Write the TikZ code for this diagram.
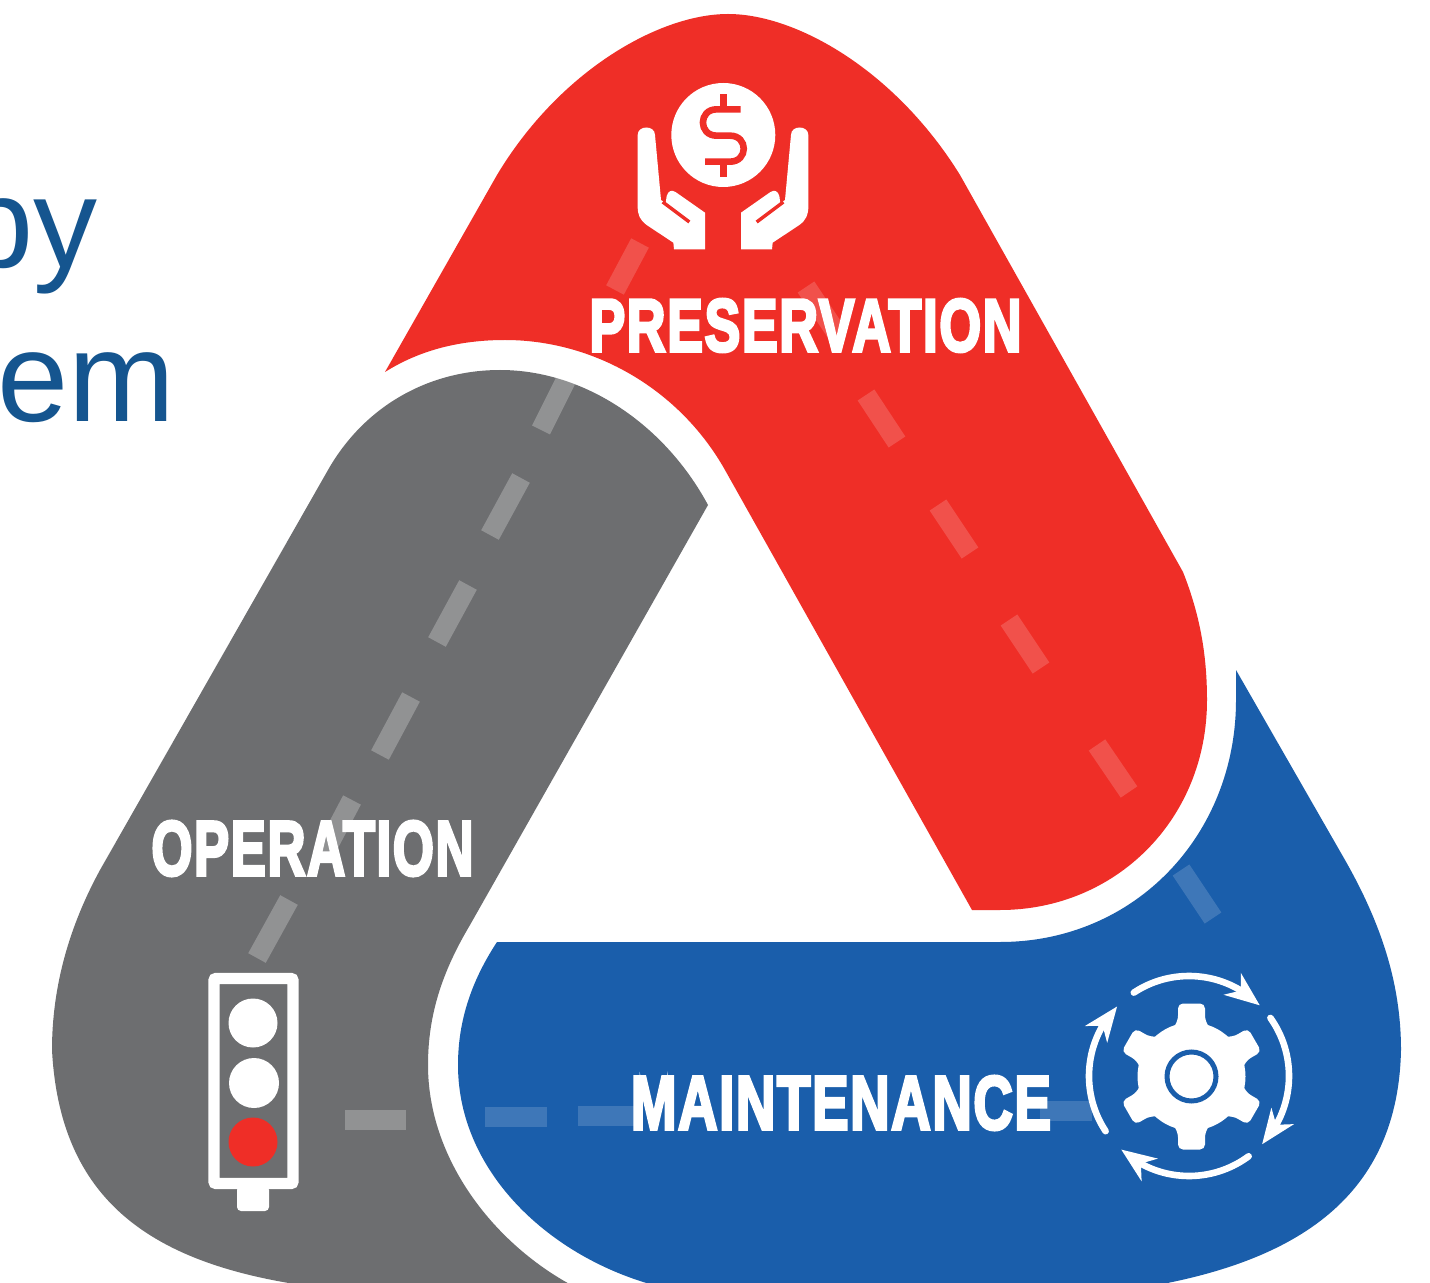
\documentclass[tikz,border=0pt]{standalone}
\usepackage{fontspec}
\setmainfont{Liberation Sans}
\newfontfamily\signfont[LetterSpace=3,BoldFeatures={FakeBold=4.4}]{Liberation Sans}
\usepackage{graphicx}
\definecolor{rdroad}{HTML}{EF2E27}
\definecolor{gyroad}{HTML}{6D6E70}
\definecolor{blroad}{HTML}{1A5EAB}
\definecolor{bltext}{HTML}{15558F}
\tikzset{
  lane/.style={draw=white,draw opacity=.25,line width=10pt},
  lanered/.style={lane,draw opacity=.17},
  laneblue/.style={lane,draw opacity=.16},
  signtext/.style={text=white,inner sep=0pt,font=\signfont\bfseries},
  headtext/.style={text=bltext,inner sep=0pt,anchor=base east,font=\fontsize{64}{64}\selectfont},
  ringline/.style={draw=white,line width=3.3pt,line cap=round},
}
\newcommand\ringarrow[2]{%
  \draw[ringline] (#1:100) arc[start angle=#1,end angle=#2+13,radius=100];
  \fill[white,shift={(#2:100)},rotate=#2-83] (0,0)--(-35,14)--(-24,0)--(-35,-14)--cycle;
}
\newcommand\handpath{%
  \fill[white] (113,225) .. controls (113,195) and (165,195) .. (165,225) -- (183,420) -- (197,430)
    -- (200,408) .. controls (205,392) and (215,388) .. (228,397) -- (315,458) -- (315,568) -- (222,568)
    -- (220,548) -- (140,495) .. controls (120,480) and (113,465) .. (113,440) -- cycle;
  \draw[rdroad,line width=1.7pt] (188,426) -- (268,486);
}
\begin{document}
\begin{tikzpicture}[x=.5pt,y=-.5pt]
\useasboundingbox (0,0) rectangle (1430,1283);
\fill[white] (0,0) rectangle (1430,1283);
\clip (0,0) rectangle (1430,1283);

% heading fragments
\node[headtext] (hby) at (98,268) {by};
\node[headtext] (hem) at (176,421.5) {em};

% red road
\fill[rdroad] (385,372) -- (497,175)
  .. controls (560,70) and (660,14) .. (728,14)
  .. controls (796,14) and (895,70) .. (960,175)
  -- (1183,572)
  .. controls (1200,615) and (1207,655) .. (1207,700)
  .. controls (1207,820) and (1115,910) .. (1000,910)
  -- (972,910) -- (725,470)
  .. controls (680,390) and (595,340) .. (505,340)
  .. controls (460,340) and (420,350) .. (385,372) -- cycle;

% gray road
\fill[gyroad] (708,505) -- (470,925)
  .. controls (442,972) and (428,1015) .. (428,1065)
  .. controls (428,1160) and (495,1245) .. (575,1287)
  -- (315,1287)
  .. controls (150,1265) and (60,1200) .. (52,1050)
  .. controls (52,985) and (70,925) .. (100,870)
  -- (328,470)
  .. controls (365,405) and (430,370) .. (500,370)
  .. controls (585,370) and (665,425) .. (708,505) -- cycle;

% blue road
\fill[blroad] (497,942) -- (1000,942)
  .. controls (1135,942) and (1236,835) .. (1236,700)
  -- (1236,670) -- (1345,860)
  .. controls (1382,925) and (1401,985) .. (1401,1050)
  .. controls (1398,1195) and (1300,1262) .. (1140,1288)
  -- (665,1288)
  .. controls (555,1262) and (458,1175) .. (458,1065)
  .. controls (458,1020) and (472,980) .. (497,942) -- cycle;

% lane markings
\draw[lanered] (640,243) -- (615,290);
\draw[lane] (567,378) -- (541,430);
\draw[lane] (521,478) -- (490,535);
\draw[lane] (468,585) -- (437,642);
\draw[lane] (411,697) -- (380,755);
\draw[lane] (352,800) -- (322,857);
\draw[lane] (289,900) -- (257,958);
\draw[lanered] (806,287) -- (838,335);
\draw[lanered] (866,395) -- (897,442);
\draw[lanered] (938,505) -- (970,553);
\draw[lanered] (1009,620) -- (1041,668);
\draw[lanered] (1097,745) -- (1129,792);
\draw[laneblue] (1181,870) -- (1213,918);
\draw[lane] (345,1120) -- (406,1120);
\draw[laneblue] (485,1117) -- (547,1117);
\draw[laneblue] (578,1116) -- (640,1116);
\draw[laneblue] (1040,1111) -- (1092,1111);

% labels
\node[signtext] (preservation) at (805.5,325.5) {\resizebox{216pt}{26pt}{PRESERVATION}};
\node[signtext] (operation) at (312.5,848.5) {\resizebox{161pt}{27pt}{OPERATION}};
\node[signtext] (maintenance) at (841,1103) {\resizebox{210pt}{26.5pt}{MAINTENANCE}};

% money icon
\fill[white] (723.3,135) circle (52);
\begin{scope}[shift={(600,60)},x=.16667pt,y=-.16667pt]
  \draw[rdroad,line width=3.3pt] (370,103) -- (370,148);
  \draw[rdroad,line width=3.3pt] (370,305) -- (370,350);
  \draw[rdroad,line width=3.3pt] (422,148) -- (350,148)
    .. controls (295,148) and (295,227) .. (350,227) -- (390,227)
    .. controls (445,227) and (445,305) .. (390,305) -- (315,305);
  \handpath
\end{scope}
\begin{scope}[shift={(846,60)},x=-.16667pt,y=-.16667pt]
  \handpath
\end{scope}

% traffic light
\draw[white,line width=5.6pt,rounded corners=1pt] (214,978.5) rectangle (293,1183.5);
\fill[white,rounded corners=2pt] (237,1186) rectangle (269,1211);
\fill[white] (253,1023) circle (24.5);
\fill[white] (254,1083) circle (25);
\fill[rdroad] (253,1142) circle (24.5);

% gear icon
\begin{scope}[shift={(1191.5,1076.5)},y=.5pt]
  \fill[white] (0,0) circle (54);
  \foreach \a in {30,90,150,210,270,330}
    \fill[white,rotate=\a,rounded corners=2.5pt] (38,-25) -- (56,-13.5) -- (73,-13.5) -- (73,13.5) -- (56,13.5) -- (38,25) -- cycle;
  \draw[blroad,line width=2.5pt] (0,0) circle (24.5);
\end{scope}
\begin{scope}[shift={(1189,1076)},y=.5pt]
  \ringarrow{123.5}{45}
  \ringarrow{35.5}{-43}
  \ringarrow{-53.4}{-132.6}
  \ringarrow{-146.5}{-224}
\end{scope}
\end{tikzpicture}
\end{document}
